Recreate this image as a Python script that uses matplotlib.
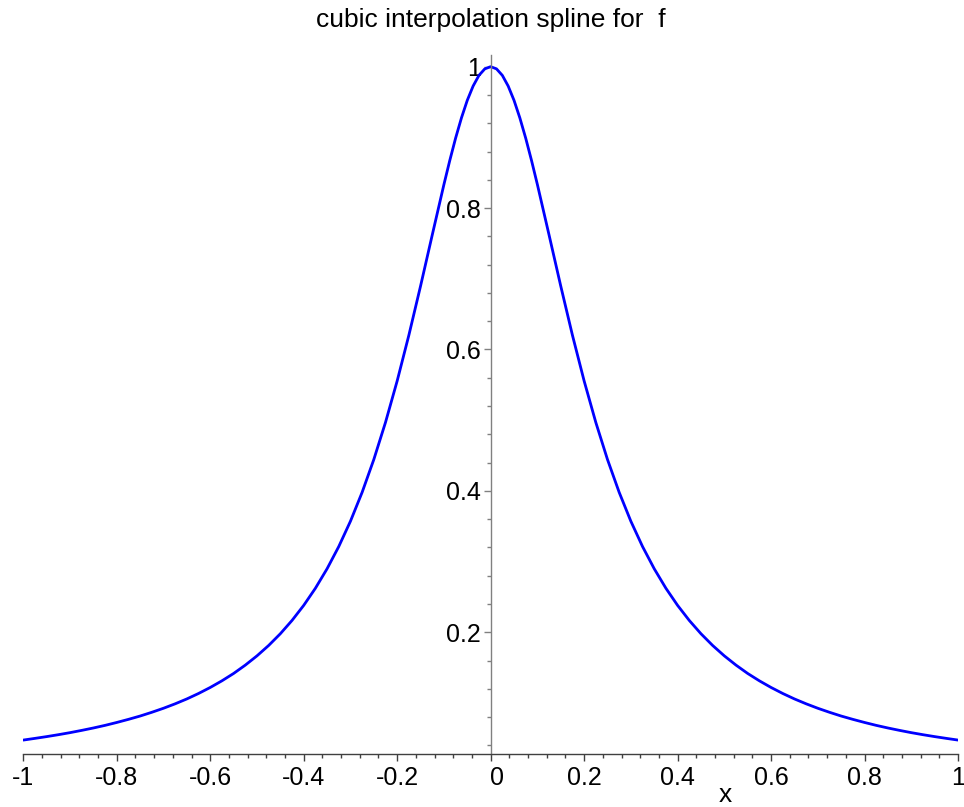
import matplotlib
matplotlib.use("Agg")
import matplotlib.pyplot as plt
from matplotlib.ticker import MultipleLocator, FixedLocator
import matplotlib.transforms as mtransforms

# values
x_vals = [-1.0, -0.975, -0.95, -0.925, -0.9, -0.875, -0.85, -0.825, -0.8, -0.775,
          -0.75, -0.725, -0.7, -0.675, -0.65, -0.625, -0.6, -0.575, -0.55, -0.525,
          -0.5, -0.475, -0.45, -0.425, -0.4, -0.375, -0.35, -0.325, -0.3, -0.275,
          -0.25, -0.225, -0.2, -0.175, -0.15, -0.125, -0.1, -0.0875, -0.075, -0.0625,
          -0.05, -0.0375, -0.025, -0.0125, 0.0, 0.0125, 0.025, 0.0375, 0.05, 0.0625,
          0.075, 0.0875, 0.1, 0.125, 0.15, 0.175, 0.2, 0.225, 0.25, 0.275,
          0.3, 0.325, 0.35, 0.375, 0.4, 0.425, 0.45, 0.475, 0.5, 0.525,
          0.55, 0.575, 0.6, 0.625, 0.65, 0.675, 0.7, 0.725, 0.75, 0.775,
          0.8, 0.825, 0.85, 0.875, 0.9, 0.925, 0.95, 0.975, 1.0]
y_vals = [0.0476, 0.0500, 0.0525, 0.0552, 0.0581, 0.0613, 0.0647, 0.0684, 0.0725, 0.0769,
          0.0816, 0.0869, 0.0926, 0.0989, 0.1058, 0.1135, 0.1220, 0.1314, 0.1418, 0.1536,
          0.1667, 0.1814, 0.1980, 0.2168, 0.2381, 0.2623, 0.2899, 0.3213, 0.3571, 0.3980,
          0.4444, 0.4969, 0.5556, 0.6202, 0.6897, 0.7619, 0.8333, 0.8672, 0.8989, 0.9275,
          0.9524, 0.9726, 0.9877, 0.9969, 1.0, 0.9969, 0.9877, 0.9726, 0.9524, 0.9275,
          0.8989, 0.8672, 0.8333, 0.7619, 0.6897, 0.6202, 0.5556, 0.4969, 0.4444, 0.3980,
          0.3571, 0.3213, 0.2899, 0.2623, 0.2381, 0.2168, 0.1980, 0.1814, 0.1667, 0.1536,
          0.1418, 0.1314, 0.1220, 0.1135, 0.1058, 0.0989, 0.0926, 0.0869, 0.0816, 0.0769,
          0.0725, 0.0684, 0.0647, 0.0613, 0.0581, 0.0552, 0.0525, 0.0500, 0.0476]

x_ticks = [-1, -0.8, -0.6, -0.4, -0.2, 0, 0.2, 0.4, 0.6, 0.8, 1]
x_tick_labels = ["-1", "-0.8", "-0.6", "-0.4", "-0.2", "0", "0.2", "0.4", "0.6", "0.8", "1"]
y_ticks = [0.2, 0.4, 0.6, 0.8, 1.0]
y_tick_labels = ["0.2", "0.4", "0.6", "0.8", "1"]
title_text = "cubic interpolation spline for  f"
x_label = "x"

plt.rcParams['font.family'] = ['Liberation Sans', 'DejaVu Sans']

fig = plt.figure(figsize=(9.64, 8.07), dpi=100)
ax = fig.add_axes([23.3 / 964, 53 / 807, (958 - 23.3) / 964, (754 - 55) / 807])

ax.plot(x_vals, y_vals, color=(0, 0, 1), lw=2.0, solid_capstyle='round')

ax.set_xlim(-1, 1)
ax.set_ylim(0.0279, 1.0165)

for s in ['top', 'right']:
    ax.spines[s].set_visible(False)
ax.spines['left'].set_position(('data', 0))
ax.spines['left'].set_color('#808080')
ax.spines['bottom'].set_color('#404040')
ax.spines['left'].set_linewidth(1.0)
ax.spines['bottom'].set_linewidth(1.0)

ax.set_xticks(x_ticks)
ax.set_xticklabels(x_tick_labels)
ax.xaxis.set_minor_locator(MultipleLocator(0.04))
ax.set_yticks(y_ticks)
ax.set_yticklabels(y_tick_labels)
ax.yaxis.set_minor_locator(FixedLocator([0.04 * i for i in range(1, 26) if i % 5 != 0]))

ax.tick_params(axis='x', which='major', length=5, width=1, color='#404040', pad=3.5, labelsize=18)
ax.tick_params(axis='x', which='minor', length=3, width=1, color='#404040')
ax.tick_params(axis='y', which='major', length=5, width=1, color='#808080', pad=2, labelsize=18)
ax.tick_params(axis='y', which='minor', length=3, width=1, color='#808080')

# shift the "0" x label a little to the right, as in the reference
for lbl in ax.get_xticklabels():
    if lbl.get_text() == "0":
        lbl.set_transform(lbl.get_transform() + mtransforms.ScaledTranslation(6 / 100, 0, fig.dpi_scale_trans))

fig.text(490.5 / 964, 1 - 20 / 807, title_text, ha='center', va='center', fontsize=19)
fig.text(725 / 964, 0 / 807, x_label, ha='center', va='bottom', fontsize=19)

fig.savefig("out.png", dpi=100)
